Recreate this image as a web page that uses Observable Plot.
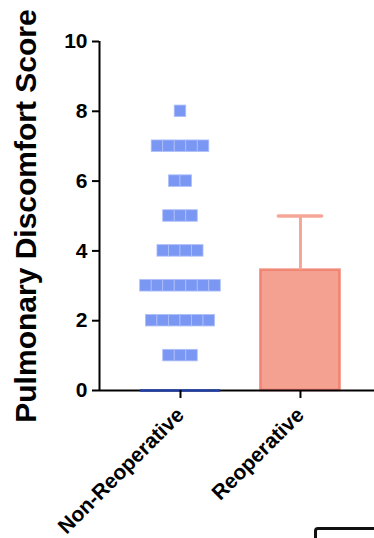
<!DOCTYPE html>
<html><head><meta charset="utf-8">
<script src="https://cdn.jsdelivr.net/npm/d3@7"></script>
<script src="https://cdn.jsdelivr.net/npm/@observablehq/plot@0.6"></script>
<style>
body{margin:0;background:#fff;overflow:hidden;}
#wrap{position:relative;width:374px;height:538px;}
#frag{position:absolute;left:314px;top:527px;width:120px;height:40px;border:3px solid #111;border-radius:4px;box-sizing:border-box;}
</style></head>
<body><div id="wrap"><div id="chart"></div><div id="frag"></div></div>
<script>
const categories = ["Non-Reoperative", "Reoperative"];
// Non-reoperative individual scores (score -> count of patients)
const nonReopScores = [0, 1, 2, 3, 4, 5, 6, 7, 8];
const nonReopCounts = [7, 3, 6, 7, 4, 3, 2, 5, 1];
// Reoperative group summary
const reopMean = 3.45;
const reopUpper = 5;
const yTicks = [0, 2, 4, 6, 8, 10];

const xDomain = [0.325, 2.617];
const sq = 0.096;   // square width in x units
const sqH = 0.33;   // square height in y units

const points = [];
nonReopScores.forEach((s, k) => {
  const n = nonReopCounts[k];
  for (let i = 0; i < n; i++) {
    const cx = 1 + (i - (n - 1) / 2) * sq;
    points.push({score: s, x1: cx - sq / 2, x2: cx + sq / 2});
  }
});
const nonZero = points.filter(d => d.score > 0);
const zeros = points.filter(d => d.score === 0);
const bar = [{x1: 2 - 0.33, x2: 2 + 0.33, y: reopMean}];

const font = "'Liberation Sans', Arial, Helvetica, sans-serif";
const chart = Plot.plot({
  width: 374, height: 538,
  marginLeft: 99, marginTop: 41, marginBottom: 148, marginRight: 0,
  style: {fontFamily: font, background: "white", overflow: "visible"},
  x: {domain: xDomain, axis: null},
  y: {domain: [0, 10], axis: null},
  marks: [
    Plot.rect(bar, {x1: "x1", x2: "x2", y1: 0, y2: "y", fill: "#f4a191", stroke: "#ee7562", strokeWidth: 2.5, strokeOpacity: 0.8, inset: 0}),
    Plot.ruleX([2], {y1: reopMean, y2: reopUpper, stroke: "#f6a696", strokeWidth: 3}),
    Plot.ruleY([reopUpper], {x1: 2 - 0.18, x2: 2 + 0.18, stroke: "#f6a696", strokeWidth: 3.5, strokeLinecap: "round"}),
    Plot.rect(nonZero, {x1: "x1", x2: "x2", y1: d => d.score - sqH / 2, y2: d => d.score + sqH / 2, fill: "#7b97f4", stroke: "#aebff8", strokeWidth: 0.8}),
    Plot.ruleX([xDomain[0]], {y1: 0, y2: 10, stroke: "black", strokeWidth: 2}),
    Plot.ruleY([0], {stroke: "black", strokeWidth: 2}),
    Plot.ruleY(zeros, {y: 0, x1: "x1", x2: "x2", stroke: "#1f3da6", strokeWidth: 2.5}),
    Plot.axisY(yTicks, {x: xDomain[0], label: null, tickSize: 7, tickPadding: 5, fontSize: 21, fontWeight: "bold", stroke: "black", strokeWidth: 2, tickFormat: d => d}),
    Plot.axisX([1, 2], {label: null, tickSize: 8, stroke: "black", strokeWidth: 2, tickRotate: -45, tickPadding: 13, fontSize: 21, fontWeight: "bold", tickFormat: d => categories[d - 1]}),
    Plot.text(["Pulmonary Discomfort Score"], {frameAnchor: "left", textAnchor: "middle", dx: -73, dy: 0, rotate: -90, fontSize: 30, fontWeight: "bold", fill: "black"})
  ]
});
document.getElementById("chart").appendChild(chart);
</script>
</body></html>
